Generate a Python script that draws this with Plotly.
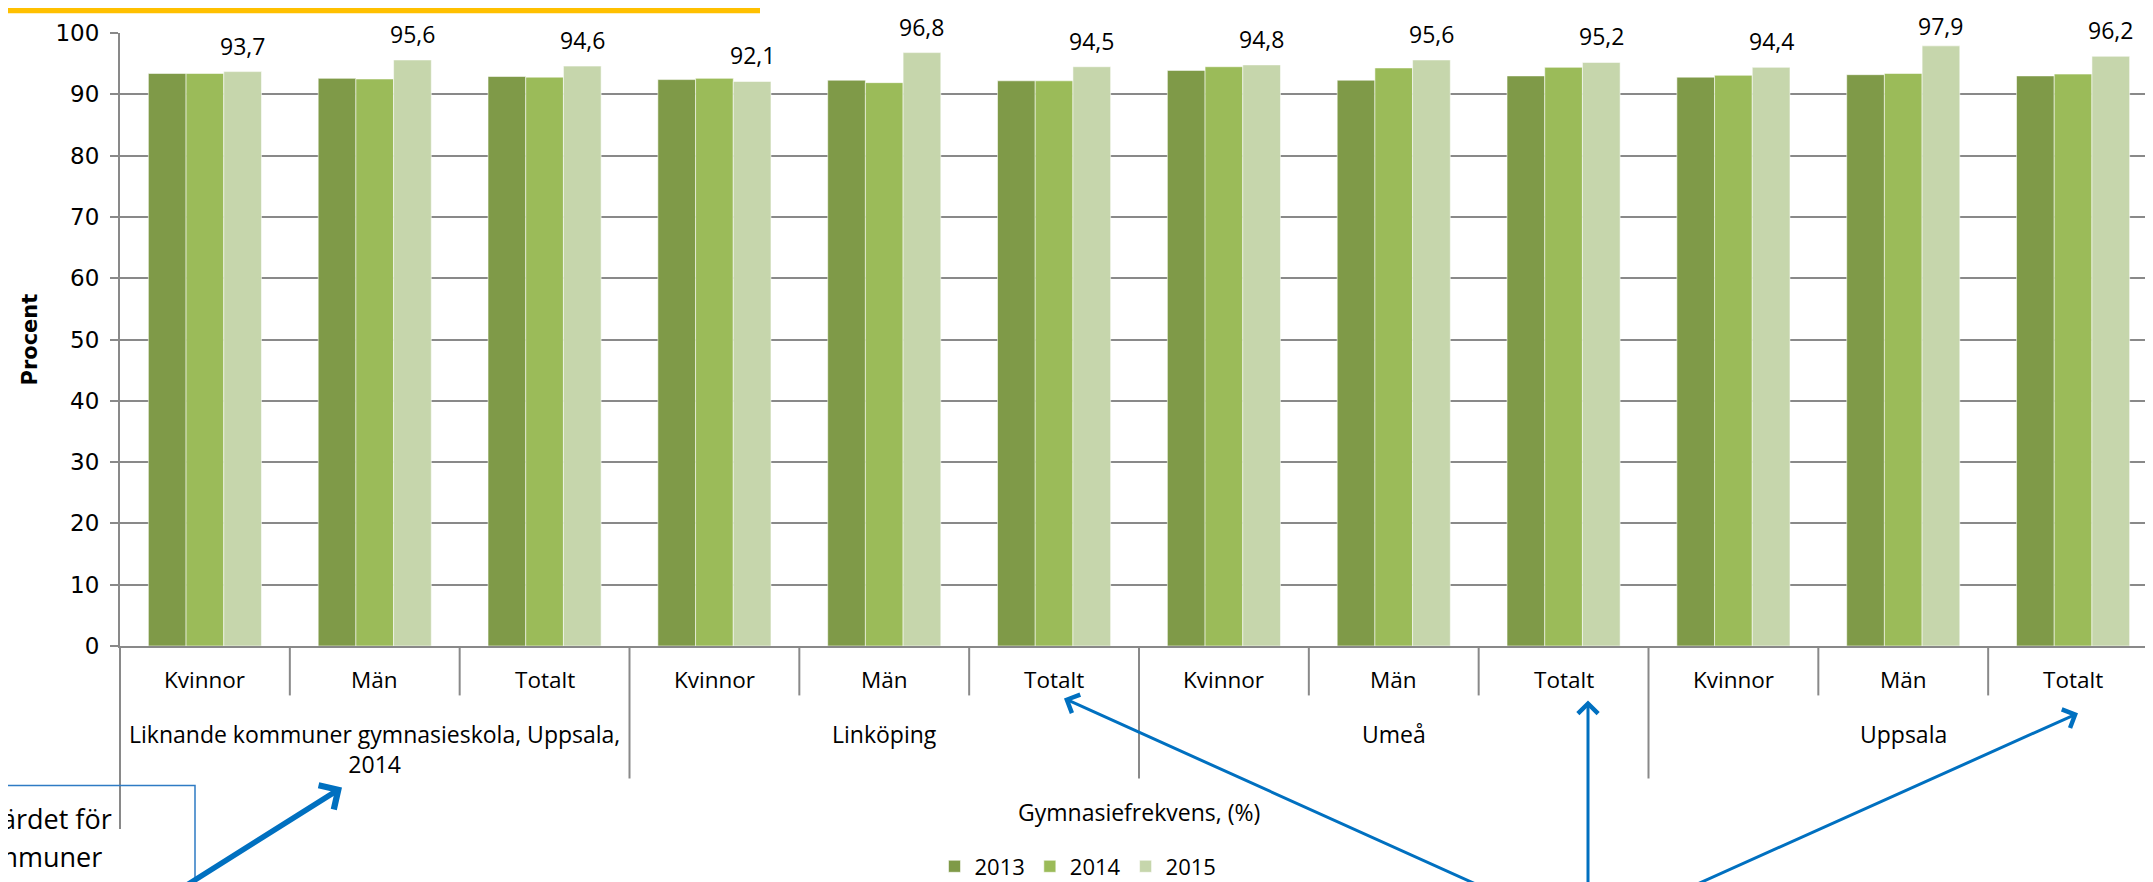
import plotly.graph_objects as go

# ---------------- data ----------------
groups = ["Liknande kommuner gymnasieskola, Uppsala,<br>2014", "Linköping", "Umeå", "Uppsala"]
subcats = ["Kvinnor", "Män", "Totalt"]
years = ["2013", "2014", "2015"]
v2013 = [93.4, 92.6, 92.9, 92.4, 92.3, 92.2, 93.9, 92.3, 93.0, 92.8, 93.2, 93.0]
v2014 = [93.4, 92.5, 92.8, 92.6, 91.9, 92.2, 94.5, 94.3, 94.4, 93.1, 93.4, 93.3]
v2015 = [93.7, 95.6, 94.6, 92.1, 96.8, 94.5, 94.8, 95.6, 95.2, 94.4, 97.9, 96.2]
series = [v2013, v2014, v2015]
colors = ["#7F9A48", "#9BBB59", "#C6D6AC"]
axis_title = "Gymnasiefrekvens, (%)"
y_title = "Procent"
callout_lines = ["ärdet för", "mmuner"]

# ---------------- layout geometry (pixels) ----------------
W, H = 2153, 882
L, R, T, B = 112, 2150, 25, 645
FONT = "Open Sans"
TICKFONT = "DejaVu Sans"
GRID = "#898989"
BLUE = "#0070C0"
n_cat = len(groups) * len(subcats)
xs = list(range(n_cat))
bargap = 0.334
bar_w = (1 - bargap) / len(years)


def py(Y):
    return (B - Y) / (B - T)


def px(X):
    return (X - L) / (R - L)


fig = go.Figure()
for name, vals, col in zip(years, series, colors):
    fig.add_trace(go.Bar(
        x=xs, y=vals, name=name, marker_color=col,
        marker_line=dict(width=1, color="rgba(255,255,255,0.55)"),
        hoverinfo="y",
    ))

annotations = []
shapes = []

# data labels on 2015 series
px_per_unit = (B - T) / 100.0
for i, v in enumerate(v2015):
    shift = min(26, (B - 18) - v * px_per_unit)
    annotations.append(dict(
        x=i + bar_w, y=v, xref="x", yref="y", text=f"{v:.1f}".replace(".", ","),
        showarrow=False, yanchor="middle", xanchor="center", yshift=shift,
        font=dict(family=FONT, size=23, color="#000"),
    ))

# level-1 category labels
for i in xs:
    annotations.append(dict(
        x=i, y=py(679), xref="x", yref="paper", text=subcats[i % len(subcats)],
        showarrow=False, yanchor="middle", xanchor="center",
        font=dict(family=FONT, size=22.5, color="#000"),
    ))

# level-2 group labels
k = len(subcats)
for g, name in enumerate(groups):
    annotations.append(dict(
        x=g * k + (k - 1) / 2, y=py(716), xref="x", yref="paper", text=name,
        showarrow=False, yanchor="top", xanchor="center",
        font=dict(family=FONT, size=23, color="#000"),
    ))

# level-3 label
annotations.append(dict(
    x=0.5, y=py(813), xref="paper", yref="paper", text=axis_title,
    showarrow=False, yanchor="middle", xanchor="center",
    font=dict(family=FONT, size=23, color="#000"),
))

# y title
annotations.append(dict(
    x=px(21), y=0.5, xref="paper", yref="paper", text="<b>" + y_title + "</b>",
    showarrow=False, textangle=-90, xanchor="center", yanchor="middle",
    font=dict(family=TICKFONT, size=21, color="#000"),
))

# category separators
for b in range(n_cat + 1):
    if b in (0, n_cat):
        yend = 830
    elif b % k == 0:
        yend = 779
    else:
        yend = 695
    shapes.append(dict(type="line", xref="paper", yref="paper",
                       x0=b / n_cat, x1=b / n_cat, y0=py(B), y1=py(yend),
                       line=dict(color=GRID, width=2)))

# yellow bar at top
shapes.append(dict(type="rect", xref="paper", yref="paper",
                   x0=px(-5), x1=px(752), y0=py(5), y1=py(-5),
                   fillcolor="#FFC000", line=dict(width=0)))

# callout box (clipped at page edge)
shapes.append(dict(type="rect", xref="paper", yref="paper",
                   x0=px(-10), x1=px(187), y0=py(900), y1=py(786),
                   line=dict(color="#2E7BC4", width=1.5), fillcolor="rgba(0,0,0,0)"))
annotations.append(dict(x=px(106), y=py(819), xref="paper", yref="paper",
                        text=callout_lines[0], showarrow=False, xanchor="right",
                        yanchor="middle", font=dict(family=FONT, size=27, color="#000")))
annotations.append(dict(x=px(96), y=py(858), xref="paper", yref="paper",
                        text=callout_lines[1], showarrow=False, xanchor="right",
                        yanchor="middle", font=dict(family=FONT, size=27, color="#000")))

# arrows (head x, head y, tail dx, tail dy, width)
arrows = [(334, 788, -163, 112, 5.5), (1056, 698, 425, 202, 3),
          (1580, 700, 0, 200, 3), (2070, 713, -394, 187, 3)]
for hx, hy, dx, dy, w in arrows:
    annotations.append(dict(
        x=px(hx), y=py(hy), xref="paper", yref="paper", text="",
        showarrow=True, ax=dx, ay=dy, arrowhead=4, arrowwidth=w,
        arrowsize=1.0 if w > 4 else 1.3, arrowcolor=BLUE, standoff=0,
    ))

fig.update_layout(
    width=W, height=H,
    margin=dict(l=L, r=W - R, t=T, b=H - B, pad=0),
    paper_bgcolor="white", plot_bgcolor="white",
    barmode="group", bargap=bargap, bargroupgap=0,
    font=dict(family=FONT, size=22, color="#000"),
    xaxis=dict(range=[-0.5, n_cat - 0.5], showticklabels=False, showgrid=False,
               zeroline=False, showline=True, linecolor=GRID, linewidth=2,
               ticks="", fixedrange=True),
    yaxis=dict(range=[0, 100], dtick=10, showgrid=True, gridcolor=GRID, gridwidth=2,
               zeroline=False, showline=True, linecolor=GRID, linewidth=2,
               ticks="outside", ticklen=8, tickwidth=2, tickcolor=GRID,
               ticklabelstandoff=6,
               tickfont=dict(family=TICKFONT, size=23, color="#000"), fixedrange=True),
    legend=dict(orientation="h", x=px(1070), xanchor="center", y=py(868), yanchor="middle",
                font=dict(family=FONT, size=22, color="#000"), bgcolor="rgba(0,0,0,0)"),
    annotations=annotations,
    shapes=shapes,
    showlegend=True,
)

fig.write_html("out.html")
